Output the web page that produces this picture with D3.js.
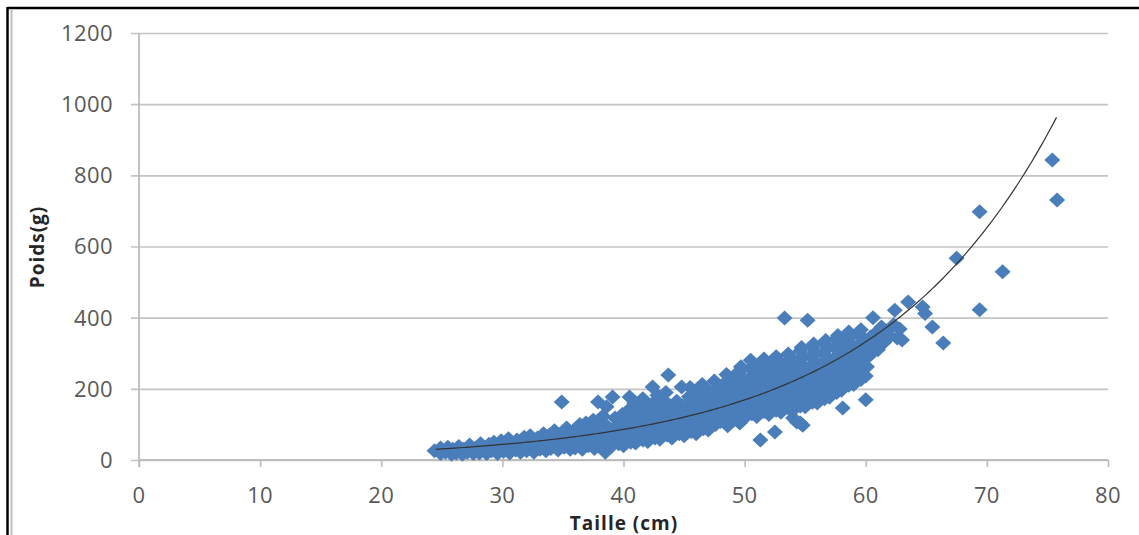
<!DOCTYPE html>
<html lang="fr">
<head>
<meta charset="utf-8">
<script src="https://cdn.jsdelivr.net/npm/d3@7"></script>
<style>
  html, body { margin: 0; padding: 0; background: #ffffff; }
  svg { display: block; }
  .tick-label { font-family: "Open Sans", sans-serif; font-size: 22px; letter-spacing: 0.4px; fill: #595959; }
  .axis-title { font-family: "Open Sans", sans-serif; font-size: 19px; letter-spacing: 1px; font-weight: bold; fill: #262626; }
</style>
</head>
<body>
<svg id="chart" width="1139" height="535"></svg>
<script>
// Taille (cm) / Poids (g) — one [taille, poids] pair per fish, grouped by size class
const classe24_34 = [
  [24.4,26],[24.9,18],[24.9,34],
  [25.3,22],[25.5,36],[25.8,16],[25.9,30],
  [26.2,20],[26.4,38],[26.7,16],[26.8,30],
  [27.1,22],[27.3,42],[27.6,18],[27.8,34],
  [28.1,20],[28.2,46],[28.5,32],[28.7,18],[28.9,44],
  [29.1,26],[29.3,50],[29.6,18],[29.7,38],[29.9,54],
  [30.1,24],[30.2,46],[30.5,60],[30.6,20],[30.8,38],
  [31.1,28],[31.2,56],[31.5,22],[31.6,44],[31.8,64],
  [32.0,26],[32.2,48],[32.3,68],[32.6,22],[32.7,40],[32.9,62],
  [33.1,30],[33.2,54],[33.4,74],[33.6,26],[33.7,46],[33.9,70]
];
const classe34_44 = [
  [34.0,32],[34.2,58],[34.3,82],[34.6,28],[34.7,48],[34.9,74],[34.9,163],
  [35.1,36],[35.2,62],[35.3,90],[35.6,30],[35.7,54],[35.8,80],
  [36.0,34],[36.2,60],[36.3,88],[36.4,100],[36.6,30],[36.7,48],[36.8,76],[36.9,104],
  [37.1,40],[37.2,66],[37.3,94],[37.5,112],[37.6,32],[37.7,56],[37.8,82],[37.9,163],
  [38.0,108],[38.1,44],[38.2,70],[38.3,124],[38.5,22],[38.6,96],[38.7,50],[38.8,78],[38.6,150],
  [39.0,38],[39.1,62],[39.2,90],[39.3,118],[39.1,177],[39.6,46],[39.7,74],[39.8,102],[39.9,128],
  [40.0,40],[40.1,60],[40.2,86],[40.3,112],[40.4,140],[40.5,177],[40.6,50],[40.7,74],[40.8,100],[40.9,126],[40.9,160],
  [41.0,48],[41.1,68],[41.2,94],[41.3,120],[41.4,148],[41.6,56],[41.7,82],[41.8,108],[41.9,136],[41.6,172],
  [42.0,52],[42.1,78],[42.2,104],[42.3,130],[42.4,205],[42.4,158],[42.6,62],[42.7,88],[42.8,116],[42.9,144],[42.8,182],
  [43.0,58],[43.1,84],[43.2,110],[43.3,138],[43.4,166],[43.5,190],[43.7,239],[43.6,70],[43.7,96],[43.8,124],[43.9,152]
];
const classe44_54 = [
  [44.0,62],[44.1,88],[44.2,116],[44.3,144],[44.4,165],[44.6,74],[44.7,100],[44.8,128],[44.9,152],[44.8,205],
  [45.0,68],[45.1,94],[45.2,122],[45.3,150],[45.4,178],[45.5,204],[45.6,80],[45.7,108],[45.8,136],[45.9,164],[45.9,192],
  [46.0,74],[46.1,100],[46.2,128],[46.3,156],[46.4,184],[46.5,212],[46.6,88],[46.7,114],[46.8,142],[46.9,170],[46.9,198],
  [47.0,84],[47.1,110],[47.2,138],[47.3,166],[47.4,194],[47.5,222],[47.6,100],[47.7,124],[47.8,152],[47.9,180],[47.9,208],
  [48.0,108],[48.1,134],[48.2,162],[48.3,190],[48.4,218],[48.5,240],[48.6,96],[48.7,120],[48.8,148],[48.9,176],[48.9,204],[48.8,230],
  [49.0,110],[49.1,136],[49.2,164],[49.3,192],[49.4,220],[49.5,248],[49.6,104],[49.7,124],[49.8,150],[49.9,178],[49.9,206],[49.8,234],[49.7,262],
  [50.0,118],[50.1,144],[50.2,172],[50.3,200],[50.4,228],[50.5,256],[50.5,280],[50.6,130],[50.7,158],[50.8,186],[50.9,214],[50.9,242],[50.8,268],
  [51.0,122],[51.1,148],[51.2,176],[51.3,56],[51.3,204],[51.4,232],[51.5,260],[51.6,284],[51.6,136],[51.7,162],[51.8,190],[51.9,218],[51.9,246],[51.8,272],
  [52.0,128],[52.1,154],[52.2,182],[52.3,210],[52.4,238],[52.5,266],[52.5,79],[52.6,290],[52.6,140],[52.7,168],[52.8,196],[52.9,224],[52.9,252],[52.8,278],
  [53.0,134],[53.1,160],[53.2,188],[53.3,216],[53.4,244],[53.5,272],[53.6,298],[53.6,146],[53.7,174],[53.8,202],[53.9,230],[53.9,258],[53.8,286],[54.0,118]
];
const classe54_63 = [
  [54.0,140],[54.1,166],[54.2,194],[54.3,107],[54.3,222],[54.4,250],[54.5,278],[54.6,306],[54.6,104],[54.6,152],[54.7,180],[54.8,98],[54.8,208],[54.9,236],[54.9,264],[54.8,292],[54.7,316],
  [55.0,150],[55.1,176],[55.2,204],[55.3,232],[55.4,260],[55.5,288],[55.6,316],[55.6,162],[55.7,190],[55.8,218],[55.9,246],[55.9,274],[55.8,302],[55.7,326],
  [56.0,160],[56.1,186],[56.2,214],[56.3,242],[56.4,270],[56.5,298],[56.6,326],[56.6,172],[56.7,200],[56.8,228],[56.9,256],[56.9,284],[56.8,312],[56.7,336],
  [57.0,176],[57.1,202],[57.2,230],[57.3,258],[57.4,286],[57.5,314],[57.6,342],[57.6,190],[57.7,216],[57.8,244],[57.9,272],[57.9,300],[57.8,328],[57.7,350],
  [58.0,196],[58.1,146],[58.1,222],[58.2,250],[58.3,278],[58.4,306],[58.5,334],[58.6,360],[58.6,210],[58.7,236],[58.8,264],[58.9,292],[58.9,320],[58.8,348],
  [59.0,212],[59.1,240],[59.2,268],[59.3,296],[59.4,324],[59.5,352],[59.6,366],[59.6,226],[59.7,254],[59.8,282],[59.9,310],[59.9,338],
  [60.0,169],[60.0,236],[60.1,262],[60.2,290],[60.3,318],[60.4,346],[60.5,300],[60.7,330],[60.8,356],
  [61.0,310],[61.2,346],[61.3,374],[61.5,330],[61.8,362],
  [62.0,348],[62.3,380],[62.6,343],[62.8,368],[63.0,337]
];
// isolated large fish and outliers above the main cloud
const grands = [
  [53.3,399],[55.2,393],[60.6,400],[62.4,421],[63.5,444],[64.7,430],[64.9,412],
  [65.5,374],[66.4,329],[67.5,567],[69.4,698],[69.4,422],[71.3,529],[75.4,843],[75.8,731]
];

// exponential trend: poids = A * exp(B * taille), drawn over the sampled size range
const TREND_A = 5.75;
const TREND_B = 0.0676;
const trendRange = [24.5, 75.8];

// axis ticks
const xTicks = [0, 10, 20, 30, 40, 50, 60, 70, 80];
const yTicks = [0, 200, 400, 600, 800, 1000, 1200];

const points = [].concat(classe24_34, classe34_44, classe44_54, classe54_63, grands);

const svg = d3.select("#chart");
const W = 1139, H = 535;
const plot = { left: 139, right: 1108, top: 33, bottom: 460 };

const x = d3.scaleLinear().domain([0, 80]).range([plot.left, plot.right]);
const y = d3.scaleLinear().domain([0, 1200]).range([plot.bottom, plot.top]);

// page frame
svg.append("rect").attr("x", 0).attr("y", 0).attr("width", W).attr("height", H).attr("fill", "#ffffff");
svg.append("line").attr("x1", 7.5).attr("x2", W).attr("y1", 8).attr("y2", 8)
  .attr("stroke", "#000").attr("stroke-width", 2.5);
svg.append("line").attr("x1", 7.5).attr("x2", 7.5).attr("y1", 7).attr("y2", H)
  .attr("stroke", "#000").attr("stroke-width", 2.5);
svg.append("line").attr("x1", 11.5).attr("x2", 11.5).attr("y1", 10).attr("y2", H)
  .attr("stroke", "#bdbdbd").attr("stroke-width", 2);

// horizontal gridlines with left stubs
const yAxis = d3.axisLeft(y).tickValues(yTicks).tickSize(-(plot.right - plot.left) - 8).tickPadding(0).tickFormat("");
const gy = svg.append("g").attr("transform", `translate(${plot.right},0)`).call(yAxis);
gy.select(".domain").remove();
gy.selectAll(".tick line").attr("stroke", "#c4c4c4").attr("stroke-width", 1.6)
  .attr("x1", 0).attr("x2", -(plot.right - plot.left) - 8);

// y axis line
svg.append("line").attr("x1", plot.left).attr("x2", plot.left)
  .attr("y1", plot.top).attr("y2", plot.bottom + 7)
  .attr("stroke", "#bdbdbd").attr("stroke-width", 1.8);

// x axis with downward ticks
const xAxis = d3.axisBottom(x).tickValues(xTicks).tickSize(7).tickFormat("");
const gx = svg.append("g").attr("transform", `translate(0,${plot.bottom})`).call(xAxis);
gx.select(".domain").attr("stroke", "#bdbdbd").attr("stroke-width", 1.8).attr("d", `M${plot.left},0H${plot.right}`);
gx.selectAll(".tick line").attr("stroke", "#bdbdbd").attr("stroke-width", 1.6);

// tick labels
svg.append("g").selectAll("text").data(yTicks).join("text")
  .attr("class", "tick-label")
  .attr("x", 113).attr("y", d => y(d)).attr("dy", "0.36em")
  .attr("text-anchor", "end").text(d => d);
svg.append("g").selectAll("text").data(xTicks).join("text")
  .attr("class", "tick-label")
  .attr("x", d => x(d)).attr("y", 503)
  .attr("text-anchor", "middle").text(d => d);

// axis titles
svg.append("text").attr("class", "axis-title")
  .attr("x", 624).attr("y", 529.5).attr("text-anchor", "middle").text("Taille (cm)");
svg.append("text").attr("class", "axis-title")
  .attr("transform", "translate(44,247) rotate(-90)")
  .attr("text-anchor", "middle").text("Poids(g)");

// diamond markers
const hw = 8, hh = 7.5;
const diamond = `M0,${-hh}L${hw},0L0,${hh}L${-hw},0Z`;
svg.append("g").selectAll("path").data(points).join("path")
  .attr("d", diamond)
  .attr("transform", d => `translate(${x(d[0])},${y(d[1])})`)
  .attr("fill", "#4a7ebb");

// trend line
const trendX = d3.range(trendRange[0], trendRange[1] + 0.001, 0.25);
const line = d3.line().x(t => x(t)).y(t => y(TREND_A * Math.exp(TREND_B * t))).curve(d3.curveLinear);
svg.append("path").datum(trendX).attr("d", line)
  .attr("fill", "none").attr("stroke", "#333").attr("stroke-width", 1.2);
</script>
</body>
</html>
